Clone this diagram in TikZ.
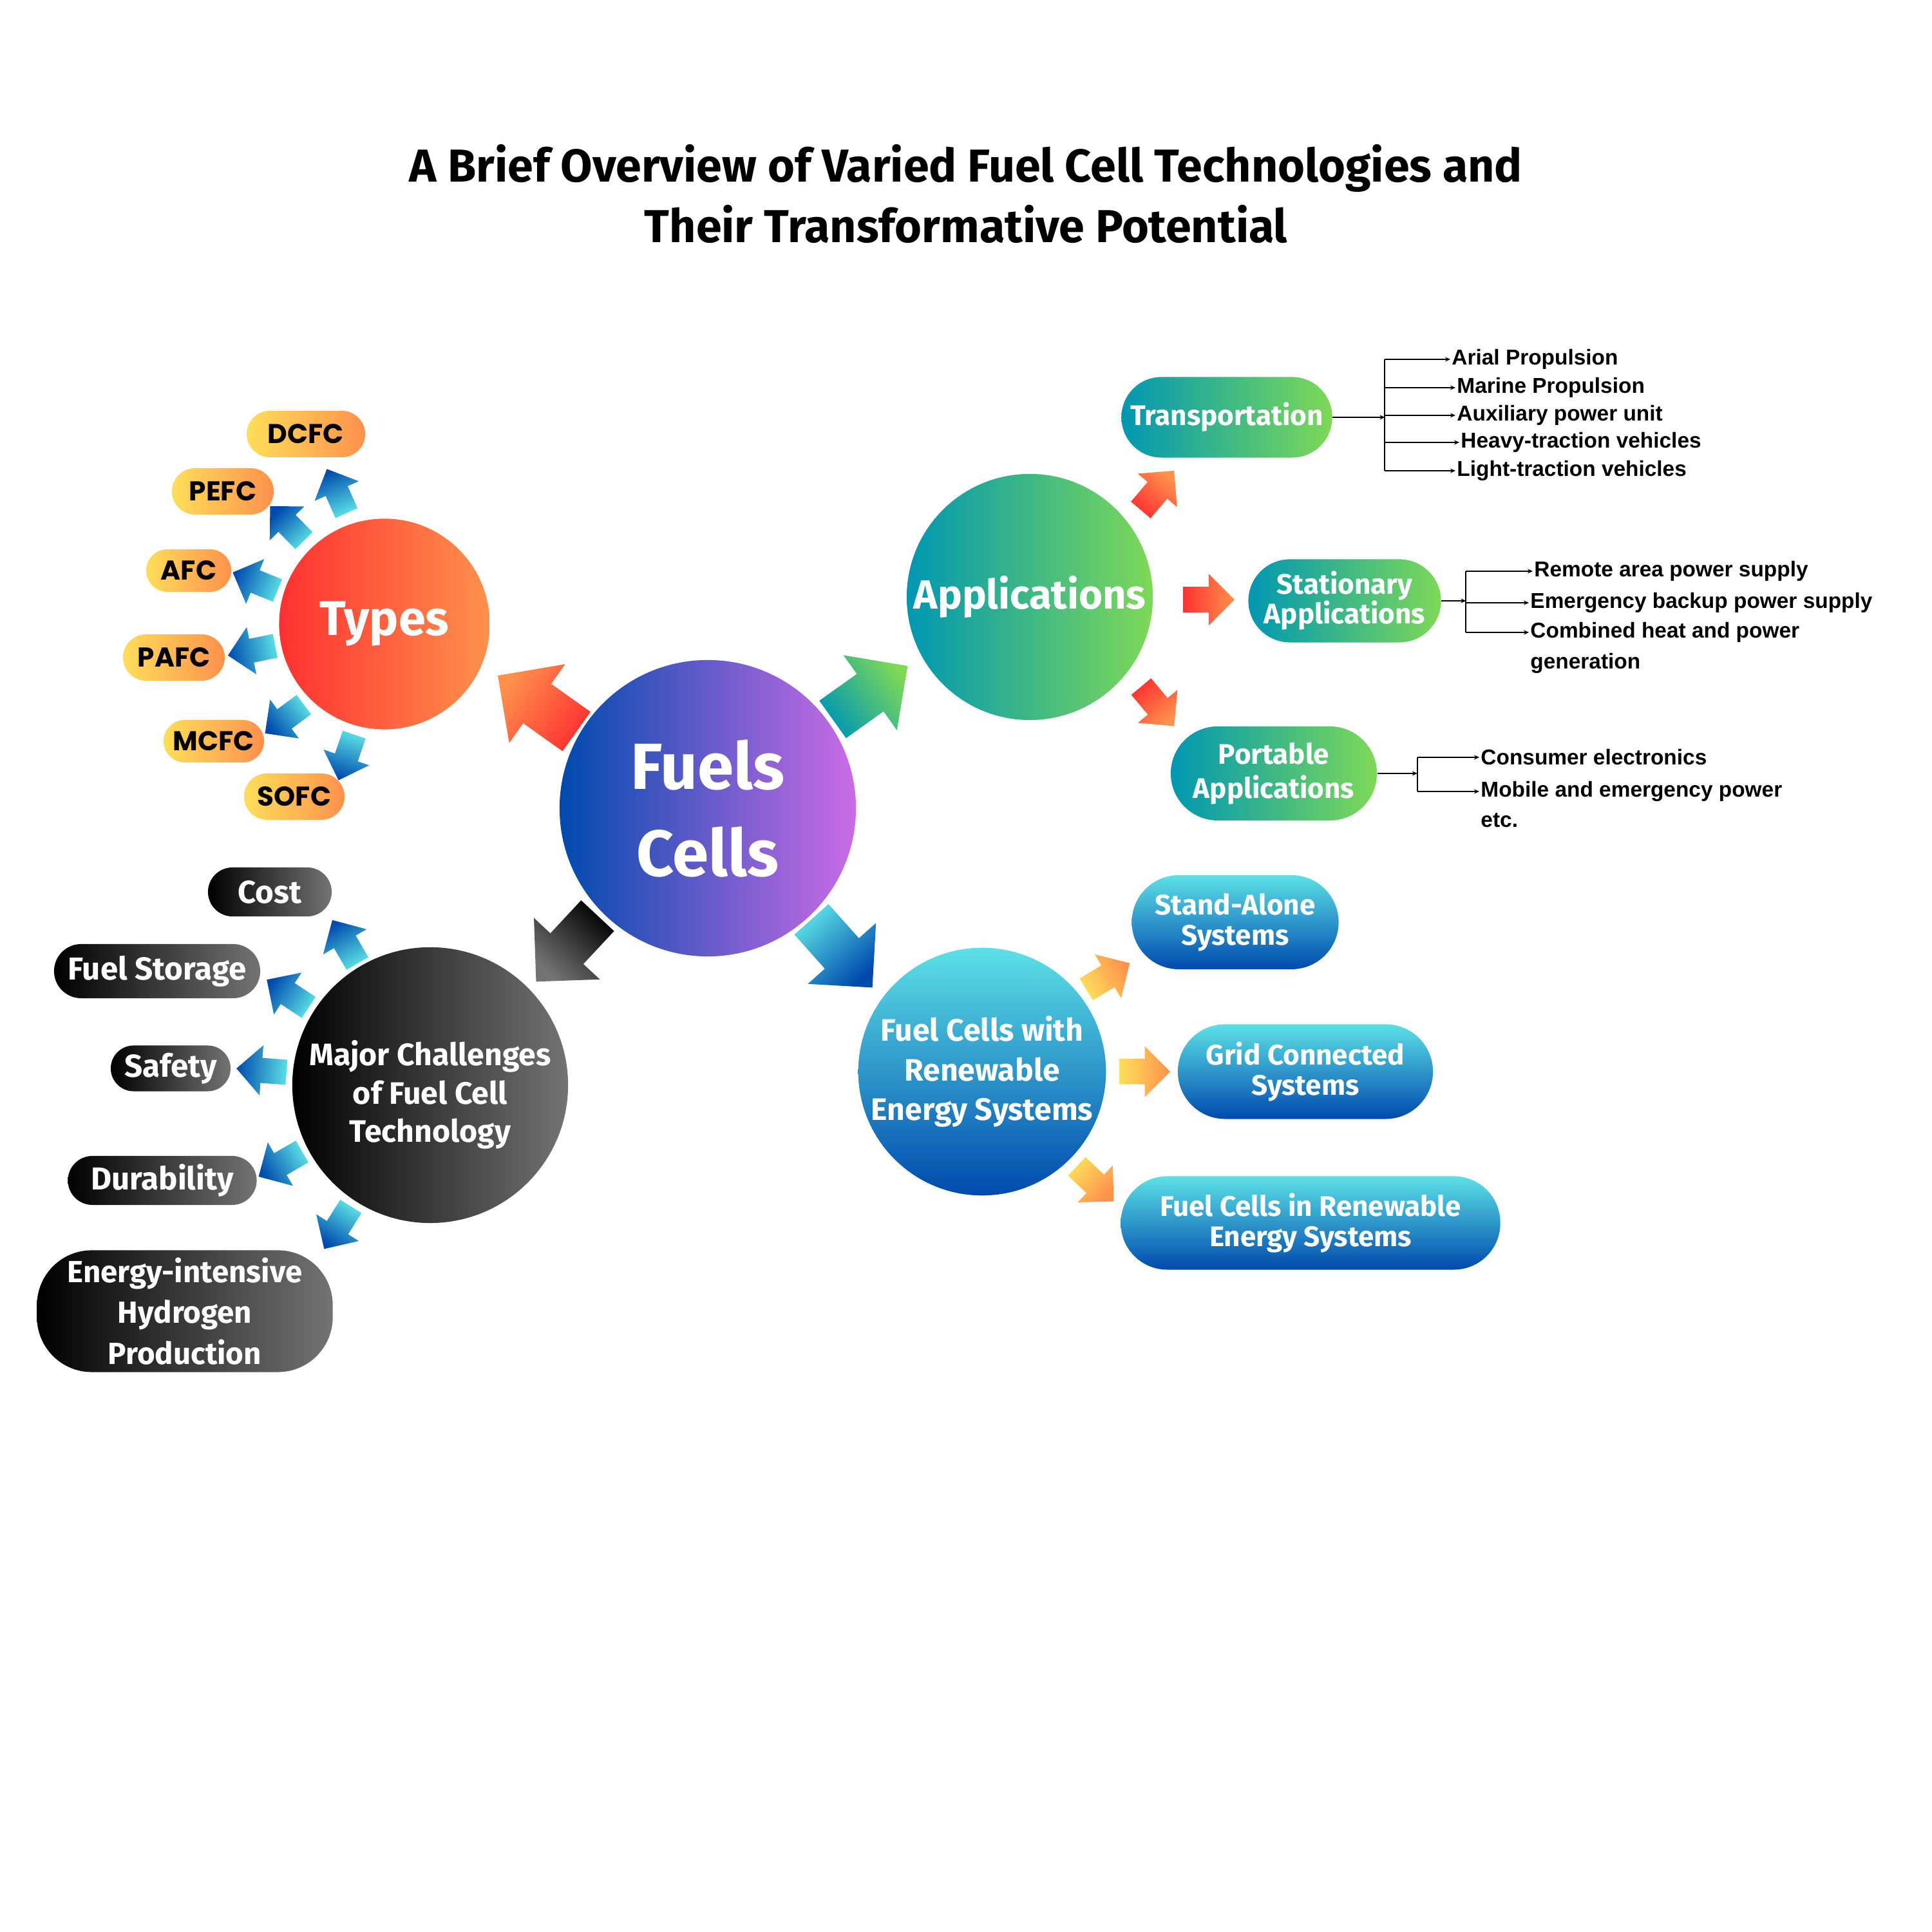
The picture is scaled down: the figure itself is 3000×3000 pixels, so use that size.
\documentclass[tikz,border=0pt]{standalone}
\usepackage{fontspec}
\setmainfont{Fira Sans}
\newfontfamily\poppins{Poppins}
\newfontfamily\listfont{Liberation Sans}
\usetikzlibrary{calc,positioning,arrows.meta}

\definecolor{cyanA}{HTML}{5CE1E6}
\definecolor{blueA}{HTML}{004AAD}
\definecolor{purpleA}{HTML}{CB6CE6}
\definecolor{redA}{HTML}{FF3131}
\definecolor{orangeA}{HTML}{FF914D}
\definecolor{yellowA}{HTML}{FFDE59}
\definecolor{tealA}{HTML}{0097B2}
\definecolor{greenA}{HTML}{7ED957}
\definecolor{grayA}{HTML}{737373}

% block arrow: tail point, direction, length, tail colour, head colour
\newcommand{\blockarr}[5]{%
  \pgfmathsetmacro\shadeang{#2-90}%
  \begin{scope}[shift={(#1)},rotate=#2]
    \shade[bottom color=#4,top color=#5,shading angle=\shadeang]
      (0,-#3/4) -- (#3/2,-#3/4) -- (#3/2,-#3/2) -- (#3,0)
      -- (#3/2,#3/2) -- (#3/2,#3/4) -- (0,#3/4) -- cycle;
  \end{scope}}

\tikzset{
  hub/.style={circle,text=white,align=center,inner sep=0pt},
  typetag/.style={rectangle,rounded corners=0.36cm,minimum height=0.72cm,inner sep=0pt,
    left color=yellowA,right color=orangeA,font=\poppins\bfseries\fontsize{12}{14}\selectfont},
  hurdle/.style={rectangle,rounded corners=0.38cm,minimum height=0.76cm,inner sep=0pt,
    left color=black,right color=grayA,text=white,font=\bfseries\fontsize{14}{18}\selectfont},
  usecase/.style={rectangle,rounded corners=0.62cm,minimum height=1.25cm,inner sep=0pt,align=center,
    left color=tealA,right color=greenA,text=white,font=\bfseries\fontsize{12.5}{13.1}\selectfont},
  option/.style={rectangle,rounded corners=0.72cm,minimum height=1.45cm,inner sep=0pt,align=center,
    top color=cyanA,bottom color=blueA,text=white,font=\bfseries\fontsize{12.5}{13.5}\selectfont},
  leaf/.style={anchor=west,inner sep=0.5pt,font=\listfont\bfseries\fontsize{9.5}{11}\selectfont},
  link/.style={-{Stealth[length=0.8mm,width=0.7mm]},line width=0.6pt},
  trunk/.style={line width=0.6pt}
}

\begin{document}
\begin{tikzpicture}[x=0.01cm,y=0.01cm]
\fill[white] (0,0) rectangle (3000,3000);

\node[align=center,font=\bfseries\fontsize{20.4}{26.7}\selectfont] (title) at (1500,2699)
  {A Brief Overview of Varied Fuel Cell Technologies and\\Their Transformative Potential};

% main circles
\node[hub,minimum size=4.6cm,left color=blueA,right color=purpleA,
  font=\bfseries\fontsize{28.8}{38.4}\selectfont] (fuel) at (1099,1745) {Fuels\\Cells};
\node[hub,minimum size=3.27cm,left color=redA,right color=orangeA,
  font=\bfseries\fontsize{21.5}{24}\selectfont] (types) at (597,2031) {Types};
\node[hub,minimum size=3.82cm,left color=tealA,right color=greenA,
  font=\bfseries\fontsize{18}{22}\selectfont] (app) at (1599,2073) {Applications};
\node[hub,minimum size=4.28cm,left color=black,right color=grayA,
  label={[text=white,align=center,yshift=-0.15cm,font=\bfseries\fontsize{13.7}{17}\selectfont]center:Major Challenges\\of Fuel Cell\\Technology}]
  (chal) at (668,1315) {};
\node[hub,minimum size=3.8cm,top color=cyanA,bottom color=blueA,
  font=\bfseries\fontsize{13.7}{17.4}\selectfont] (renew) at (1525,1336) {Fuel Cells with\\Renewable\\Energy Systems};

% big arrows out of the centre
\blockarr{$(fuel)+(149.7:236)$}{144.6}{150}{redA}{orangeA}
\blockarr{$(fuel)+(35.4:238)$}{35.5}{143}{tealA}{greenA}
\blockarr{$(fuel)+(224.3:239)$}{227}{140}{black}{grayA}
\blockarr{$(fuel)+(-47:236)$}{-48.2}{142}{cyanA}{blueA}

% types
\node[typetag,minimum width=1.84cm] (dcfc) at (475,2326) {DCFC};
\node[typetag,minimum width=1.58cm] (pefc) at (346,2237) {PEFC};
\node[typetag,minimum width=1.32cm,minimum height=0.66cm,rounded corners=0.33cm] (afc) at (293,2114) {AFC};
\node[typetag,minimum width=1.58cm] (pafc) at (270,1979) {PAFC};
\node[typetag,minimum width=1.56cm,minimum height=0.66cm,rounded corners=0.33cm] (mcfc) at (332,1849) {MCFC};
\node[typetag,minimum width=1.56cm] (sofc) at (457,1763) {SOFC};
\foreach \a/\r/\d in {108.9/182/114,134/180/134.5,162.6/174/158,191.3/173/191.5,225/177/216.5,254.7/178/251}
  {\blockarr{$(types)+(\a:\r)$}{\d}{75}{cyanA}{blueA}}

% challenges
\node[hurdle,minimum width=1.92cm] (cost) at (419,1615) {Cost};
\node[hurdle,minimum width=3.2cm,minimum height=0.84cm,rounded corners=0.42cm] (storage) at (244,1492) {Fuel Storage};
\node[hurdle,minimum width=1.86cm,minimum height=0.71cm,rounded corners=0.355cm] (safety) at (265,1341) {Safety};
\node[hurdle,minimum width=2.93cm] (durab) at (252,1167) {Durability};
\node[hurdle,minimum width=4.59cm,minimum height=1.89cm,rounded corners=0.85cm,align=center,
  font=\bfseries\fontsize{13.5}{18}\selectfont] (hydro) at (287,964) {Energy-intensive\\Hydrogen\\Production};
\foreach \a/\r/\d in {120.9/220/120,147.4/224/146.5,174.9/224/175.6,207.4/224/210,236.8/225/237.9}
  {\blockarr{$(chal)+(\a:\r)$}{\d}{78}{cyanA}{blueA}}

% applications
\node[usecase,minimum width=3.27cm] (trans) at (1905,2352) {Transportation};
\node[usecase,minimum width=2.99cm,minimum height=1.29cm,rounded corners=0.645cm] (stat) at (2088,2067) {Stationary\\Applications};
\node[usecase,minimum width=3.2cm,minimum height=1.46cm,rounded corners=0.73cm,
  font=\bfseries\fontsize{12.5}{15}\selectfont] (port) at (1978,1799) {Portable\\Applications};
\foreach \a/\r/\d in {38.1/219/49.6,-1/238/0,-38.8/222/-50.1}
  {\blockarr{$(app)+(\a:\r)$}{\d}{80}{redA}{orangeA}}

% transportation list
\node[leaf] (arial) at (2252,2442) {Arial Propulsion};
\node[leaf] (marine) at (2260,2398) {Marine Propulsion};
\node[leaf] (aux) at (2260,2355) {Auxiliary power unit};
\node[leaf] (heavy) at (2266,2313) {Heavy-traction vehicles};
\node[leaf] (light) at (2260,2269) {Light-traction vehicles};
\coordinate (tj) at ([xshift=0.81cm]trans.east);
\draw[link] (trans.east) -- (tj);
\draw[trunk] (tj |- arial.west) -- (tj |- light.west);
\foreach \n in {arial,marine,aux,heavy,light}
  \draw[link] (tj |- \n.west) -- (\n.west);

% stationary list
\node[leaf] (remote) at (2380,2113) {Remote area power supply};
\node[leaf] (emerg) at (2374,2064) {Emergency backup power supply};
\node[leaf] (chp) at (2374,2018) {Combined heat and power};
\node[leaf] (gen) at ([yshift=-0.48cm]chp.west) {generation};
\coordinate (sj) at ([xshift=0.38cm]stat.east);
\draw[link] (stat.east) -- (sj);
\draw[trunk] (sj |- remote.west) -- (sj |- chp.west);
\foreach \n in {remote,emerg,chp}
  \draw[link] (sj |- \n.west) -- (\n.west);

% portable list
\node[leaf] (consumer) at (2297,1824) {Consumer electronics};
\node[leaf] (mobile) at (2297,1771) {Mobile and emergency power};
\node[leaf] (etcn) at ([yshift=-0.45cm]mobile.west) {etc.};
\coordinate (pj) at ([xshift=0.62cm]port.east);
\draw[link] (port.east) -- (pj);
\draw[trunk] (pj |- consumer.west) -- (pj |- mobile.west);
\foreach \n in {consumer,mobile}
  \draw[link] (pj |- \n.west) -- (\n.west);

% renewable systems
\node[option,minimum width=3.21cm,minimum height=1.46cm,rounded corners=0.73cm] (stand) at (1918,1568) {Stand-Alone\\Systems};
\node[option,minimum width=3.96cm,minimum height=1.47cm,rounded corners=0.735cm] (grid) at (2027,1336) {Grid Connected\\Systems};
\node[option,minimum width=5.89cm] (fcre) at (2035,1101) {Fuel Cells in Renewable\\Energy Systems};
\foreach \a/\r/\d in {38.3/206/31.1,0/213/0,-45/208/-43.5}
  {\blockarr{$(renew)+(\a:\r)$}{\d}{79}{yellowA}{orangeA}}
\end{tikzpicture}
\end{document}
